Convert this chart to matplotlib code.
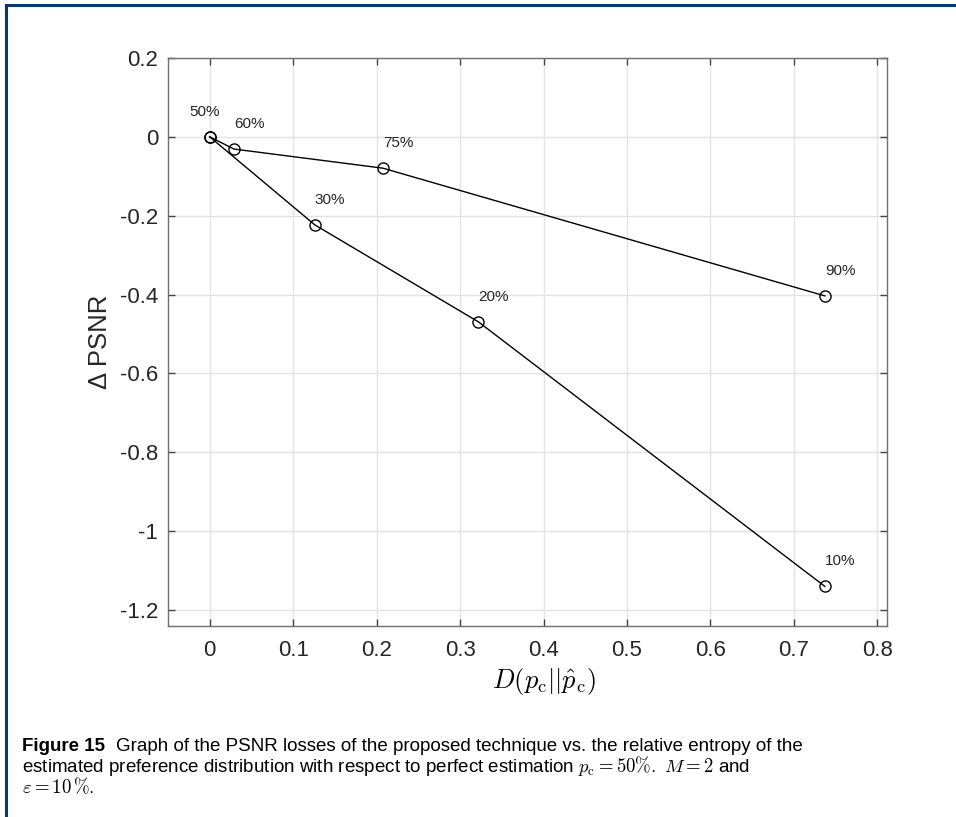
#!/usr/bin/env python3
"""PSNR loss versus relative entropy of the estimated preference distribution."""

import matplotlib

matplotlib.use("Agg")

import matplotlib.pyplot as plt
from matplotlib.lines import Line2D

# relative entropy D(p_c || p_hat_c) and PSNR change for each estimate
upper_labels = ["50%", "60%", "75%", "90%"]
upper_d = [0.0, 0.029, 0.2075, 0.737]
upper_psnr = [0.0, -0.031, -0.0795, -0.4035]

lower_labels = ["50%", "30%", "20%", "10%"]
lower_d = [0.0, 0.126, 0.322, 0.737]
lower_psnr = [0.0, -0.2235, -0.4695, -1.1405]

x_ticks = [0, 0.1, 0.2, 0.3, 0.4, 0.5, 0.6, 0.7, 0.8]
x_tick_labels = ["0", "0.1", "0.2", "0.3", "0.4", "0.5", "0.6", "0.7", "0.8"]
y_ticks = [0.2, 0, -0.2, -0.4, -0.6, -0.8, -1, -1.2]
y_tick_labels = ["0.2", "0", "-0.2", "-0.4", "-0.6", "-0.8", "-1", "-1.2"]

plt.rcParams["font.family"] = ["Liberation Sans", "DejaVu Sans"]
plt.rcParams["mathtext.fontset"] = "cm"
plt.rcParams["axes.unicode_minus"] = False

W, H = 956, 817
fig = plt.figure(figsize=(W / 100, H / 100), dpi=100)
ax = fig.add_axes([168 / W, 1 - 626 / H, (887 - 168) / W, (626 - 58) / H])

line_kw = dict(color="black", linewidth=1.0, marker="o", markersize=8,
               markerfacecolor="none", markeredgecolor="black",
               markeredgewidth=1.0, zorder=3)
ax.plot(upper_d, upper_psnr, **line_kw)
ax.plot(lower_d, lower_psnr, **line_kw)

# percentage labels sit just above each marker, left-aligned on it
seen = set()
for labels, xs, ys in ((upper_labels, upper_d, upper_psnr),
                       (lower_labels, lower_d, lower_psnr)):
    for lab, x, y in zip(labels, xs, ys):
        if (x, y, lab) in seen:
            continue
        seen.add((x, y, lab))
        dx = -15 if lab == "50%" else 0
        ax.annotate(lab, (x, y), xytext=(dx, 18), textcoords="offset points",
                    ha="left", va="center", fontsize=11, color="#262626")

ax.set_xlim(-0.05, 0.8115)
ax.set_ylim(-1.241, 0.2)
ax.set_xticks(x_ticks)
ax.set_xticklabels(x_tick_labels)
ax.set_yticks(y_ticks)
ax.set_yticklabels(y_tick_labels)

ax.grid(True, color="#e3e3e3", linewidth=1.0)
ax.set_axisbelow(True)
for sp in ax.spines.values():
    sp.set_color("#6e6e6e")
    sp.set_linewidth(1.0)
ax.tick_params(direction="in", length=5, width=1.0, color="#444444",
               labelsize=16, labelcolor="#262626", top=True, right=True)
ax.tick_params(axis="x", pad=10)
ax.tick_params(axis="y", pad=7)

ax.set_xlabel(r"$D(p_\mathrm{c}||\hat{p}_\mathrm{c})$", fontsize=19, labelpad=4)
ax.xaxis.label.set_x(0.523)
ax.set_ylabel("\u0394 PSNR", fontsize=18.5, color="#262626", labelpad=6)

# caption under the plot
cap_kw = dict(fontsize=13.5, color="black", va="baseline", ha="left")
x0 = 22 / W
bold = fig.text(x0, 1 - 751 / H, "Figure 15", fontweight="bold", **cap_kw)
fig.canvas.draw()
bb = bold.get_window_extent()
fig.text((bb.x1 + 11) / W, 1 - 751 / H,
         "Graph of the PSNR losses of the proposed technique vs. the relative entropy of the",
         **cap_kw)
fig.text(x0, 1 - 772 / H,
         r"estimated preference distribution with respect to perfect estimation "
         r"$p_\mathrm{c} = 50\%.$ $M = 2$ and", **cap_kw)
fig.text(x0, 1 - 793 / H, r"$\varepsilon = 10\,\%.$", **cap_kw)

# frame around the figure panel
frame = "#063a6e"
fig.add_artist(Line2D([6 / W, 1], [1 - 5 / H, 1 - 5 / H], color=frame,
                      linewidth=2.2, transform=fig.transFigure))
fig.add_artist(Line2D([6 / W, 6 / W], [0, 1 - 5 / H], color=frame,
                      linewidth=2.2, transform=fig.transFigure))

fig.savefig("out.png", dpi=100)
